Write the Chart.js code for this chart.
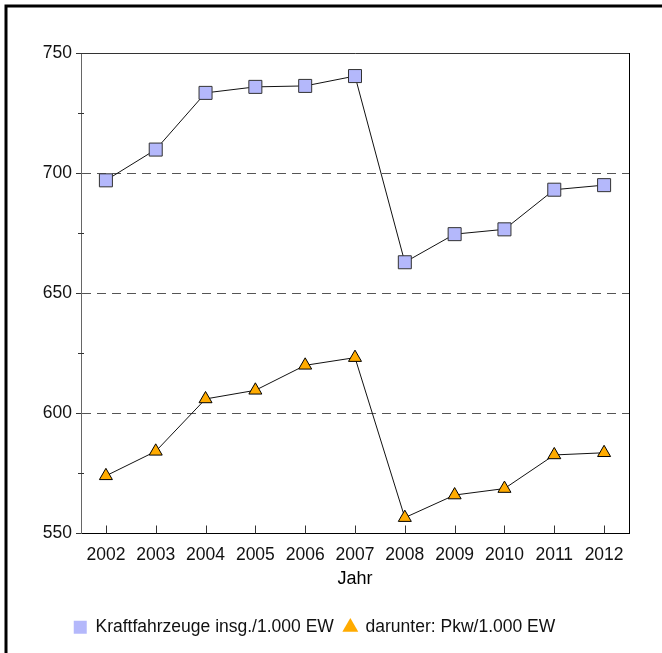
<!DOCTYPE html>
<html>
<head>
<meta charset="utf-8">
<script src="https://cdn.jsdelivr.net/npm/chart.js@4"></script>
<style>
 html, body { margin: 0; padding: 0; background: #fff; }
 canvas { display: block; }
</style>
</head>
<body>
<canvas id="chartCanvas" width="662" height="653"></canvas>
<script>
// Daten
const jahre = ['2002', '2003', '2004', '2005', '2006', '2007', '2008', '2009', '2010', '2011', '2012'];
const kfzWerte = [697.0, 709.8, 733.4, 735.9, 736.3, 740.4, 662.9, 674.6, 676.6, 693.1, 695.0];
const pkwWerte = [574.0, 584.2, 606.0, 609.6, 620.0, 623.2, 556.6, 566.0, 568.7, 582.7, 583.6];
const yMin = 550;
const yMax = 750;
const gitterWerte = [600, 650, 700];
const nebenTicks = [575, 625, 675, 725];

const schrift = 17.5;
Chart.defaults.font.family = "'Liberation Sans Narrow', 'Liberation Sans', Arial, sans-serif";
Chart.defaults.font.size = schrift;
Chart.defaults.color = '#111';

// Rahmen, obere/rechte Achse und Tickmarken nach innen
const rahmenPlugin = {
  id: 'rahmen',
  beforeDraw(chart) {
    const c = chart.ctx;
    c.save();
    c.strokeStyle = '#000';
    c.lineWidth = 3;
    c.beginPath();
    c.moveTo(6, chart.height + 2);
    c.lineTo(6, 6);
    c.lineTo(chart.width + 2, 6);
    c.stroke();
    c.restore();
  },
  afterDraw(chart) {
    const c = chart.ctx;
    const a = chart.chartArea;
    const x = chart.scales.x;
    const y = chart.scales.y;
    c.save();
    c.lineWidth = 1;
    c.strokeStyle = '#333';
    c.beginPath();
    c.moveTo(a.left, a.top + 0.5);
    c.lineTo(a.right + 0.5, a.top + 0.5);
    c.stroke();
    c.strokeStyle = '#000';
    c.beginPath();
    c.moveTo(a.right + 0.5, a.top);
    c.lineTo(a.right + 0.5, a.bottom);
    c.stroke();
    // Tickmarken x-Achse nach innen
    c.strokeStyle = '#333';
    jahre.forEach((j, i) => {
      const px = Math.round(x.getPixelForTick(i)) + 0.5;
      c.beginPath();
      c.moveTo(px, a.bottom);
      c.lineTo(px, a.bottom - 8);
      c.stroke();
    });
    // Nebenticks y-Achse
    nebenTicks.forEach(v => {
      const py = Math.round(y.getPixelForValue(v)) + 0.5;
      c.beginPath();
      c.moveTo(a.left - 3, py);
      c.lineTo(a.left + 3, py);
      c.stroke();
    });
    c.restore();
  }
};

const ctx = document.getElementById('chartCanvas').getContext('2d');
new Chart(ctx, {
  type: 'line',
  data: {
    labels: jahre,
    datasets: [
      {
        label: 'Kraftfahrzeuge insg./1.000 EW',
        data: kfzWerte,
        borderColor: '#111',
        borderWidth: 1,
        backgroundColor: '#b4b8fb',
        pointStyle: 'rect',
        pointRadius: 9.2,
        pointBackgroundColor: '#b4b8fb',
        pointBorderColor: '#333',
        pointBorderWidth: 1,
        tension: 0
      },
      {
        label: 'darunter: Pkw/1.000 EW',
        data: pkwWerte,
        borderColor: '#111',
        borderWidth: 1,
        backgroundColor: '#ffab00',
        pointStyle: 'triangle',
        pointRadius: 7.5,
        pointBackgroundColor: '#ffab00',
        pointBorderColor: '#000',
        pointBorderWidth: 1,
        tension: 0
      }
    ]
  },
  options: {
    responsive: false,
    animation: false,
    layout: {
      padding: { left: 0, right: 33, top: 53, bottom: 7 }
    },
    plugins: {
      tooltip: { enabled: false },
      legend: {
        position: 'bottom',
        labels: {
          usePointStyle: true,
          boxWidth: 13,
          boxHeight: 13,
          padding: 10,
          color: '#111',
          font: { size: schrift },
          generateLabels(chart) {
            const items = Chart.defaults.plugins.legend.labels.generateLabels(chart);
            items.forEach(it => { it.lineWidth = 0; it.strokeStyle = 'rgba(0,0,0,0)'; });
            return items;
          }
        }
      }
    },
    scales: {
      x: {
        offset: true,
        grid: { display: true, drawOnChartArea: false, drawTicks: false },
        border: { display: true, color: '#000', width: 1 },
        ticks: { padding: 11, color: '#111', font: { size: schrift } },
        title: {
          display: true,
          text: 'Jahr',
          color: '#000',
          font: { size: schrift + 0.5 },
          padding: { top: 0, bottom: 19 }
        },
        afterFit(scale) { scale.height = 75; }
      },
      y: {
        min: yMin,
        max: yMax,
        ticks: {
          stepSize: 25,
          padding: 4,
          color: '#111',
          font: { size: schrift },
          callback: v => (v % 50 === 0 ? v : '')
        },
        grid: {
          drawTicks: true,
          tickLength: 5,
          tickColor: c => (c.tick && c.tick.value % 50 === 0 ? '#333' : 'rgba(0,0,0,0)'),
          tickBorderDash: [],
          color: c => (c.tick && gitterWerte.includes(c.tick.value) ? '#555' : 'rgba(0,0,0,0)'),
          lineWidth: 1
        },
        border: { display: true, color: '#666', width: 1, dash: [9, 6] },
        afterFit(scale) { scale.width = 81; }
      }
    }
  },
  plugins: [rahmenPlugin]
});
</script>
</body>
</html>
